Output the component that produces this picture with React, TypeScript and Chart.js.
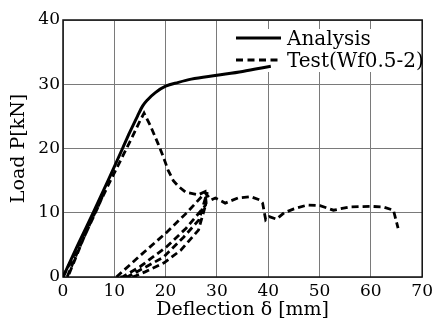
import { useEffect, useRef } from 'react';
import { Chart, registerables } from 'chart.js';

Chart.register(...registerables);

const seriesLabels = ['Analysis', 'Test(Wf0.5-2)'];
const xTitle = 'Deflection δ [mm]';
const yTitle = 'Load P[kN]';
const xTickValues = [0, 10, 20, 30, 40, 50, 60, 70];
const yTickValues = [0, 10, 20, 30, 40];

const analysisDeflection = [0, 3, 6, 9, 11.6, 13, 14.5, 15.5, 16.5, 18, 20, 22.5, 25, 30, 35, 40.5];
const analysisLoad = [0, 5.2, 10.2, 15.4, 20, 22.5, 25, 26.6, 27.6, 28.7, 29.7, 30.3, 30.8, 31.4, 32.0, 32.8];

const testDeflection = [
  0, 2, 4.5, 8, 7, 4, 1.2, 0.8, 3, 6, 9, 11.5, 13.5, 15, 15.8, 17, 18.5, 19.5, 20.5, 21.5, 22.5, 23.9, 26.4, 27.7,
  27.9, 26.4, 23, 19.7, 16, 14.2, 13.5,
  12.5, 16, 19.6, 23.5, 26.5, 28.1,
  27.8, 24, 20.2, 15, 11.6,
  10.4, 15, 20, 24, 27.7,
  28.9, 29.7, 31.6, 34.1, 36.6, 38.3, 38.9, 39.5, 40.2, 41.6, 43.1, 45, 47.6, 50.1, 52.7, 55.9, 59.8, 62.4, 64.4, 65.3,
];
const testLoad = [
  0, 3.2, 7.4, 13.2, 11.2, 6, 0.5, 0, 4.2, 9.6, 14.6, 18.6, 21.8, 24.3, 25.5, 23.6, 20.8, 18.8, 16.6, 15, 14.1, 13.2, 12.8, 13.3,
  11.5, 7.3, 4.2, 2.2, 0.8, 0.2, 0,
  0, 1.5, 3.1, 6.2, 8.9, 13.2,
  11.2, 7.6, 4.7, 1.6, 0,
  0, 3.3, 6.8, 9.9, 13.1,
  12, 12.3, 11.5, 12.3, 12.5, 12, 11.5, 8.9, 9.4, 9.0, 10, 10.6, 11.2, 11.1, 10.4, 10.9, 11.0, 10.9, 10.4, 7.6,
];

const FONT = '"DejaVu Serif", "Liberation Serif", serif';

const frameAndLegend = {
  id: 'frameAndLegend',
  beforeDatasetsDraw(chart: any) {
    const { ctx, chartArea: a } = chart;
    ctx.save();
    ctx.fillStyle = '#ffffff';
    ctx.fillRect(231, 29, 193, 43);
    ctx.strokeStyle = '#111';
    ctx.lineWidth = 1.5;
    ctx.strokeRect(a.left, a.top, a.right - a.left, a.bottom - a.top);
    ctx.restore();
  },
  afterDatasetsDraw(chart: any) {
    const { ctx } = chart;
    ctx.save();
    ctx.strokeStyle = '#000';
    ctx.lineWidth = 3;
    ctx.beginPath();
    ctx.moveTo(236, 38);
    ctx.lineTo(281, 38);
    ctx.stroke();
    ctx.lineWidth = 2.8;
    ctx.setLineDash([7, 4.5]);
    ctx.beginPath();
    ctx.moveTo(236, 60);
    ctx.lineTo(281, 60);
    ctx.stroke();
    ctx.setLineDash([]);
    ctx.fillStyle = '#000';
    ctx.font = `20px ${FONT}`;
    ctx.textBaseline = 'alphabetic';
    ctx.textAlign = 'left';
    ctx.fillText(seriesLabels[0], 287, 45);
    ctx.fillText(seriesLabels[1], 287, 67);
    ctx.restore();
  },
};

export default function App() {
  const ref = useRef<HTMLCanvasElement | null>(null);
  useEffect(() => {
    document.body.style.margin = '0';
    const canvas = ref.current;
    if (!canvas) return;
    const chart = new Chart(canvas, {
      type: 'scatter',
      data: {
        datasets: [
          {
            label: seriesLabels[0],
            data: analysisDeflection.map((x, i) => ({ x, y: analysisLoad[i] })),
            showLine: true,
            borderColor: '#000',
            borderWidth: 3,
            pointRadius: 0,
            cubicInterpolationMode: 'monotone',
          },
          {
            label: seriesLabels[1],
            data: testDeflection.map((x, i) => ({ x, y: testLoad[i] })),
            showLine: true,
            borderColor: '#000',
            borderWidth: 2.8,
            borderDash: [7, 4],
            pointRadius: 0,
            tension: 0,
          },
        ],
      } as any,
      options: {
        animation: false,
        responsive: true,
        maintainAspectRatio: false,
        layout: { padding: { top: 20, right: 11, left: 0, bottom: 0 } },
        plugins: { legend: { display: false }, tooltip: { enabled: false } },
        scales: {
          x: {
            type: 'linear',
            min: xTickValues[0],
            max: xTickValues[xTickValues.length - 1],
            afterBuildTicks: (s: any) => {
              s.ticks = xTickValues.map((v) => ({ value: v }));
            },
            afterFit: (s: any) => {
              s.height = 49;
            },
            ticks: { color: '#000', font: { family: FONT, size: 17 }, padding: 4, maxRotation: 0 },
            grid: { color: '#7a7a7a', lineWidth: 1, drawTicks: false },
            border: { display: false },
            title: {
              display: true,
              text: xTitle,
              color: '#000',
              font: { family: FONT, size: 19 },
              padding: { top: 0, bottom: 5 },
            },
          },
          y: {
            type: 'linear',
            min: yTickValues[0],
            max: yTickValues[yTickValues.length - 1],
            afterBuildTicks: (s: any) => {
              s.ticks = yTickValues.map((v) => ({ value: v }));
            },
            afterFit: (s: any) => {
              s.width = 63;
            },
            ticks: { color: '#000', font: { family: FONT, size: 17 }, padding: 3 },
            grid: { color: '#7a7a7a', lineWidth: 1, drawTicks: false },
            border: { display: false },
            title: {
              display: true,
              text: yTitle,
              color: '#000',
              font: { family: FONT, size: 19 },
              padding: { top: 8, bottom: 0 },
            },
          },
        },
      } as any,
      plugins: [frameAndLegend],
    });
    return () => chart.destroy();
  }, []);
  return (
    <div style={{ position: 'absolute', left: 0, top: 0, width: 437, height: 326, background: '#fff' }}>
      <canvas ref={ref} />
    </div>
  );
}
